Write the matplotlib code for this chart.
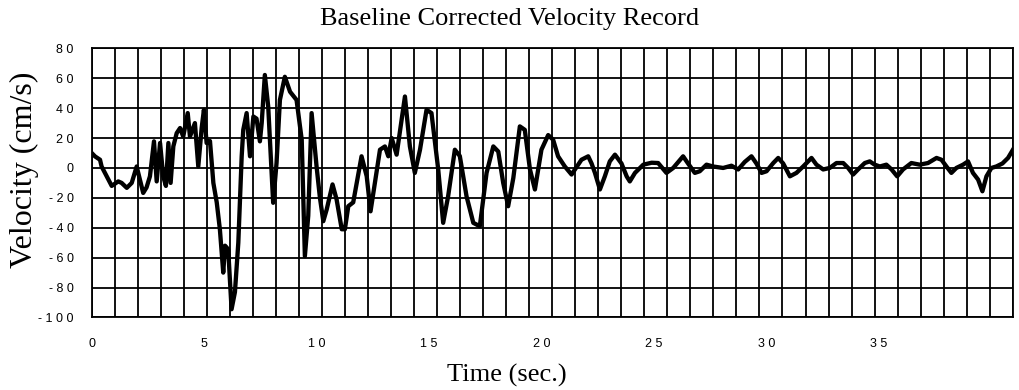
import numpy as np
import matplotlib.pyplot as plt

# Velocity record (time in s, velocity in cm/s)
time = [0.0, 0.15, 0.37, 0.44, 0.67, 0.89, 1.18, 1.33, 1.56, 1.78, 2.0, 2.29, 2.44, 2.59,
        2.77, 2.89, 3.04, 3.18, 3.30, 3.41, 3.51, 3.63, 3.78, 3.93, 4.07, 4.27, 4.37, 4.59,
        4.74, 4.89, 4.99, 5.11, 5.26, 5.41, 5.56, 5.70, 5.85, 5.93, 6.07, 6.22, 6.37, 6.52,
        6.67, 6.74, 6.89, 7.04, 7.19, 7.33, 7.48, 7.56, 7.70, 7.85, 8.07, 8.22, 8.37, 8.59,
        8.82, 9.11, 9.34, 9.48, 9.63, 9.78, 10.0, 10.15, 10.30, 10.45, 10.71, 10.89, 11.12,
        11.26, 11.41, 11.63, 12.0, 12.23, 12.40, 12.82, 13.04, 13.19, 13.34, 13.56, 13.93,
        14.15, 14.37, 14.60, 14.89, 15.11, 15.41, 15.63, 15.85, 16.15, 16.37, 16.67, 16.97,
        17.26, 17.56, 17.86, 18.08, 18.30, 18.52, 18.75, 19.04, 19.26, 19.49, 19.71, 20.0,
        20.3, 20.52, 20.74, 21.04, 21.34, 21.63, 21.78, 22.08, 22.23, 22.38, 22.60, 22.82,
        23.04, 23.27, 23.56, 23.79, 23.93, 24.16, 24.53, 24.9, 25.19, 25.56, 25.86, 26.30,
        26.52, 26.82, 27.04, 27.34, 27.63, 28.08, 28.45, 28.75, 29.04, 29.34, 29.56, 29.79,
        30.01, 30.31, 30.53, 30.75, 31.05, 31.34, 31.64, 32.01, 32.23, 32.53, 32.82, 33.12,
        33.42, 33.64, 33.86, 34.08, 34.38, 34.60, 34.82, 35.05, 35.34, 35.57, 35.82, 36.08,
        36.45, 36.82, 37.19, 37.57, 37.79, 38.01, 38.23, 38.45, 38.75, 38.97, 39.19, 39.42,
        39.61, 39.79, 40.01, 40.23, 40.5, 40.75, 40.96]
velocity = [10, 7.7, 5.5, 1, -5.6, -12, -9, -10, -13.3, -10, 1, -16.7, -13, -5.6,
            17.8, -9, 16.7, -5.6, -12, 16.7, -10, 14.4, 23.3, 26.7, 21, 36.7, 21, 30,
            1, 26.7, 38.9, 16.7, 18, -10, -23, -41, -70, -52, -54.4, -94.5, -83, -50,
            7.8, 25.5, 36.7, 7.8, 34.4, 33, 17.8, 30, 62.2, 41, -23.3, 3.3, 45.5, 61,
            51, 45.5, 18.9, -59, -32, 36.7, 1, -20, -35.6, -27.8, -11, -21, -41,
            -41, -25.6, -23, 7.8, -5.6, -29, 12.2, 14.4, 7.8, 20, 8.9, 47.8,
            14.4, -3.3, 12.2, 38.9, 36.7, -1, -36.7, -19, 12.2, 8, -19, -36.7,
            -39, -3.3, 14.4, 11, -10, -25.6, -6.7, 27.8, 25.5, -1, -14.4, 12.2,
            22, 18.9, 7.8, 1, -4.4, 2.2, 5.5, 7.8, 3, -3.3, -14.4, -5.6,
            4.4, 8.9, 3, -5.6, -9, -3.3, 2.2, 3.5, 3.3, -3.3, 0, 7.8,
            3, -3.3, -2.2, 2.2, 1, 0, 1.5, -1, 4, 7.8, 3, -3.3,
            -2.2, 3.3, 6.7, 3, -5.6, -3.3, 1, 6.7, 2.2, -1, 0, 3.3,
            3.3, 0, -4.4, -1, 3.3, 4.4, 2.2, 1, 2.2, -1, -5.6, -1,
            3.3, 2.2, 3.3, 6.7, 5.5, 1, -3.3, 0, 2.2, 4.4, -3.3, -7.8,
            -15.6, -5.6, 0, 1, 3, 6.7, 12]

x_ticks = [0, 5, 10, 15, 20, 25, 30, 35]
y_ticks = [80, 60, 40, 20, 0, -20, -40, -60, -80, -100]

t_end = 40.96

fig = plt.figure(figsize=(10.2, 3.9), dpi=100)
ax = fig.add_axes([0.0899, 0.186, 0.903, 0.690])

ax.plot(time, velocity, color='black', linewidth=3.1, solid_joinstyle='round')

ax.set_xlim(0, t_end)
ax.set_ylim(-100, 80)

# grid: 40 divisions across the time axis, every 20 cm/s vertically
for gx in np.linspace(0, t_end, 41):
    ax.axvline(gx, color='black', linewidth=1.3, zorder=0)
for gy in y_ticks:
    ax.axhline(gy, color='black', linewidth=1.3, zorder=0)

ax.set_xticks(x_ticks)
ax.set_yticks(y_ticks)
ax.set_xticklabels([' '.join(str(v)) for v in x_ticks], family='Liberation Sans', fontsize=9)
ax.set_yticklabels([' '.join(str(v)) for v in y_ticks], family='Liberation Sans', fontsize=9)
ax.tick_params(axis='both', length=0)
ax.tick_params(axis='x', pad=15)
ax.tick_params(axis='y', pad=13)

for s in ax.spines.values():
    s.set_linewidth(1.3)

# titles are centred on the figure, not on the axes
fig.text(0.5, 0.936, 'Baseline Corrected Velocity Record', family='Liberation Serif',
         fontsize=19, ha='center', va='baseline')
fig.text(0.497, 0.022, 'Time (sec.)', family='Liberation Serif', fontsize=19,
         ha='center', va='baseline')
fig.text(0.024, 0.564, 'Velocity (cm/s)', family='Liberation Serif', fontsize=23,
         ha='center', va='center', rotation=90)

fig.savefig('out.png', dpi=100)
